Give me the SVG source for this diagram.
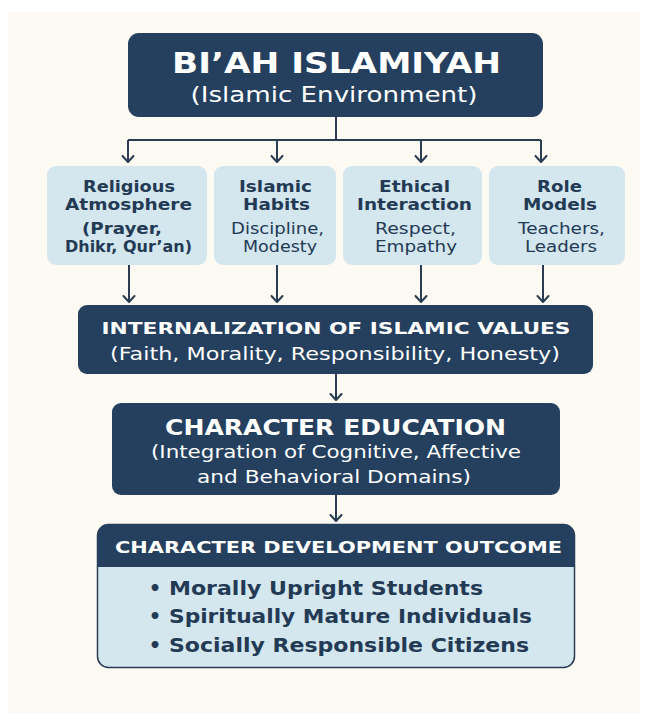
<svg xmlns="http://www.w3.org/2000/svg" width="649" height="724" viewBox="0 0 649 724">
<defs>
<marker id="arr" viewBox="0 0 9 14" refX="7.5" refY="7" markerWidth="9" markerHeight="14" markerUnits="userSpaceOnUse" orient="auto">
<path d="M1.5,1.5 L7.5,7 L1.5,12.5" fill="none" stroke="#2a3d52" stroke-width="2" stroke-linecap="round" stroke-linejoin="round"/>
</marker>
<style>
.dark{fill:#25405e}
.light{fill:#d4e6ee}
.wt{fill:#ffffff;font-family:"DejaVu Sans",sans-serif;text-anchor:middle}
.dt{fill:#233a55;font-family:"DejaVu Sans",sans-serif;text-anchor:middle}
.b{font-weight:700}
.conn{fill:none;stroke:#2a3d52;stroke-width:2}
</style>
</defs>
<rect x="0" y="0" width="649" height="724" fill="#ffffff"/>
<rect x="8" y="12" width="632" height="701" fill="#fdfaf3"/>
<g id="connectors">
<path class="conn" d="M336,117 V140 M128,140 H541"/>
<path class="conn" d="M128,140 V162" marker-end="url(#arr)"/>
<path class="conn" d="M277,140 V162" marker-end="url(#arr)"/>
<path class="conn" d="M421,140 V162" marker-end="url(#arr)"/>
<path class="conn" d="M541,140 V162" marker-end="url(#arr)"/>
<path class="conn" d="M129,265 V302" marker-end="url(#arr)"/>
<path class="conn" d="M277,265 V302" marker-end="url(#arr)"/>
<path class="conn" d="M421,265 V302" marker-end="url(#arr)"/>
<path class="conn" d="M543,265 V302" marker-end="url(#arr)"/>
<path class="conn" d="M336,374 V400" marker-end="url(#arr)"/>
<path class="conn" d="M336,495 V521" marker-end="url(#arr)"/>
</g>
<g id="bi-ah-islamiyah">
<rect class="dark" x="128" y="33" width="415" height="84" rx="11"/>
<text class="wt b" x="336.5" y="73" font-size="29" textLength="329" lengthAdjust="spacingAndGlyphs">BI’AH ISLAMIYAH</text>
<text class="wt" x="334" y="102" font-size="21" textLength="287" lengthAdjust="spacingAndGlyphs">(Islamic Environment)</text>
</g>
<g id="religious-atmosphere">
<rect class="light" x="47" y="166" width="160" height="99" rx="9"/>
<text class="dt b" x="129" y="192" font-size="15.5" textLength="92" lengthAdjust="spacingAndGlyphs">Religious</text>
<text class="dt b" x="128.5" y="210" font-size="15.5" textLength="127" lengthAdjust="spacingAndGlyphs">Atmosphere</text>
<text class="dt b" x="122" y="234" font-size="15" textLength="80" lengthAdjust="spacingAndGlyphs">(Prayer,</text>
<text class="dt b" x="128.5" y="252" font-size="15" textLength="127" lengthAdjust="spacingAndGlyphs">Dhikr, Qur’an)</text>
</g>
<g id="islamic-habits">
<rect class="light" x="214" y="166" width="122" height="99" rx="9"/>
<text class="dt b" x="275.5" y="192" font-size="15.5" textLength="73" lengthAdjust="spacingAndGlyphs">Islamic</text>
<text class="dt b" x="276.5" y="210" font-size="15.5" textLength="67" lengthAdjust="spacingAndGlyphs">Habits</text>
<text class="dt" x="277.5" y="234" font-size="15" textLength="93" lengthAdjust="spacingAndGlyphs">Discipline,</text>
<text class="dt" x="280" y="252" font-size="15" textLength="74" lengthAdjust="spacingAndGlyphs">Modesty</text>
</g>
<g id="ethical-interaction">
<rect class="light" x="343" y="166" width="139" height="99" rx="9"/>
<text class="dt b" x="414.5" y="192" font-size="15.5" textLength="71" lengthAdjust="spacingAndGlyphs">Ethical</text>
<text class="dt b" x="414.5" y="210" font-size="15.5" textLength="115" lengthAdjust="spacingAndGlyphs">Interaction</text>
<text class="dt" x="415.5" y="234" font-size="15" textLength="81" lengthAdjust="spacingAndGlyphs">Respect,</text>
<text class="dt" x="416" y="252" font-size="15" textLength="82" lengthAdjust="spacingAndGlyphs">Empathy</text>
</g>
<g id="role-models">
<rect class="light" x="489" y="166" width="136" height="99" rx="9"/>
<text class="dt b" x="559.5" y="192" font-size="15.5" textLength="45" lengthAdjust="spacingAndGlyphs">Role</text>
<text class="dt b" x="560" y="210" font-size="15.5" textLength="74" lengthAdjust="spacingAndGlyphs">Models</text>
<text class="dt" x="561.5" y="234" font-size="15" textLength="87" lengthAdjust="spacingAndGlyphs">Teachers,</text>
<text class="dt" x="561" y="252" font-size="15" textLength="72" lengthAdjust="spacingAndGlyphs">Leaders</text>
</g>
<g id="internalization">
<rect class="dark" x="78" y="305" width="515" height="69" rx="9"/>
<text class="wt b" x="336" y="334" font-size="16.5" textLength="469" lengthAdjust="spacingAndGlyphs">INTERNALIZATION OF ISLAMIC VALUES</text>
<text class="wt" x="335" y="360" font-size="17" textLength="450" lengthAdjust="spacingAndGlyphs">(Faith, Morality, Responsibility, Honesty)</text>
</g>
<g id="character-education">
<rect class="dark" x="112" y="403" width="448" height="92" rx="9"/>
<text class="wt b" x="335.5" y="435" font-size="21" textLength="341" lengthAdjust="spacingAndGlyphs">CHARACTER EDUCATION</text>
<text class="wt" x="336" y="458" font-size="17.5" textLength="370" lengthAdjust="spacingAndGlyphs">(Integration of Cognitive, Affective</text>
<text class="wt" x="334" y="483" font-size="17.5" textLength="274" lengthAdjust="spacingAndGlyphs">and Behavioral Domains)</text>
</g>
<g id="character-development-outcome">
<rect x="97.5" y="524.5" width="477" height="143" rx="11" fill="#d4e6ee" stroke="#283c52" stroke-width="1.5"/>
<path class="dark" d="M108.5,524.5 H563.5 A11,11 0 0 1 574.5,535.5 V567 H97.5 V535.5 A11,11 0 0 1 108.5,524.5 Z"/>
<text class="wt b" x="338.5" y="553" font-size="16" textLength="447" lengthAdjust="spacingAndGlyphs">CHARACTER DEVELOPMENT OUTCOME</text>
<g class="dt b" font-size="19.5">
<text x="155" y="595"><tspan>•</tspan><tspan x="326" textLength="314" lengthAdjust="spacingAndGlyphs">Morally Upright Students</tspan></text>
<text x="155" y="623"><tspan>•</tspan><tspan x="350.5" textLength="363" lengthAdjust="spacingAndGlyphs">Spiritually Mature Individuals</tspan></text>
<text x="155" y="652"><tspan>•</tspan><tspan x="349" textLength="360" lengthAdjust="spacingAndGlyphs">Socially Responsible Citizens</tspan></text>
</g>
</g>
</svg>
